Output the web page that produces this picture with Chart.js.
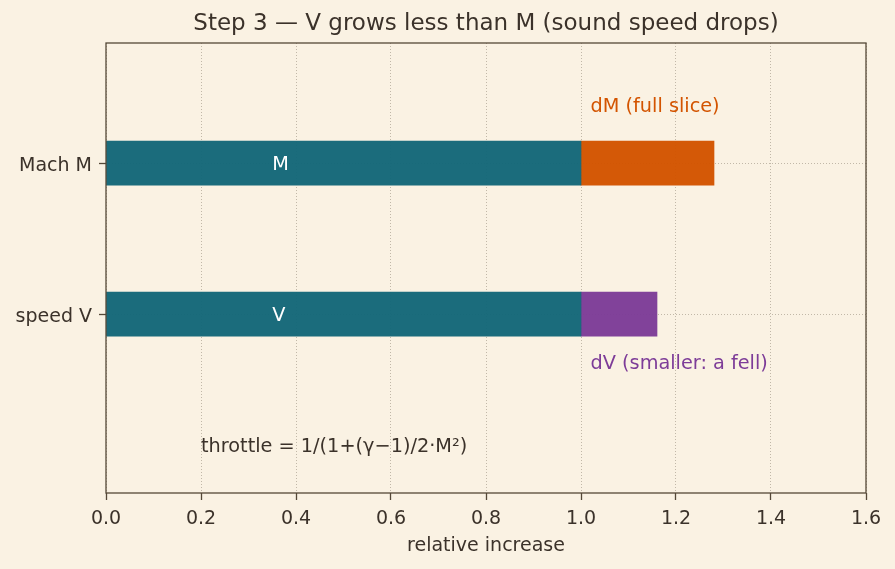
<!DOCTYPE html>
<html lang="en">
<head>
    <meta charset="UTF-8">
    <title>Step 3</title>
    <script src="https://cdn.jsdelivr.net/npm/chart.js"></script>
    <style>
        body { margin: 0; padding: 0; background: #faf2e3; }
        #wrap { width: 895px; height: 569px; position: relative; }
    </style>
</head>
<body>
    <div id="wrap"><canvas id="chart"></canvas></div>
    <script>
        // data
        const rows = ['speed V', 'Mach M'];          // y positions 0, 1
        const rowPos = [0, 1];
        const baseValue = [1.0, 1.0];
        const growth = [0.16, 0.28];                  // dV, dM
        const xTicks = [0, 0.2, 0.4, 0.6, 0.8, 1.0, 1.2, 1.4, 1.6];

        const ink = '#3b322a';
        const frame = '#554837';
        const gridCol = '#b3a899';
        const font = 'DejaVu Sans';

        // texts in data coordinates
        const notes = [
            { text: 'dM (full slice)', x: 1.02, y: 1.385, color: '#d35400' },
            { text: 'dV (smaller: a fell)', x: 1.02, y: -0.32, color: '#7d3c98' },
            { text: 'throttle = 1/(1+(\u03b3\u22121)/2\u00b7M\u00b2)', x: 0.2, y: -0.87, color: ink },
            { text: 'M', x: 0.35, y: 1, color: '#ffffff' },
            { text: 'V', x: 0.35, y: 0, color: '#ffffff' }
        ];

        const extras = {
            id: 'extras',
            beforeDraw(chart) {
                const c = chart.ctx;
                c.save();
                c.fillStyle = '#faf2e3';
                c.fillRect(0, 0, chart.width, chart.height);
                c.restore();
            },
            afterDraw(chart) {
                const c = chart.ctx, a = chart.chartArea;
                const sx = chart.scales.x, sy = chart.scales.y;
                c.save();
                // frame
                c.strokeStyle = frame;
                c.lineWidth = 1.3;
                c.strokeRect(a.left, a.top, a.right - a.left, a.bottom - a.top);
                // title
                c.fillStyle = ink;
                c.font = '23px "' + font + '"';
                c.textAlign = 'center';
                c.textBaseline = 'middle';
                c.fillText('Step 3 \u2014 V grows less than M (sound speed drops)', (a.left + a.right) / 2, 24);
                // notes
                c.font = '19.3px "' + font + '"';
                c.textAlign = 'left';
                notes.forEach(n => {
                    c.fillStyle = n.color;
                    c.fillText(n.text, sx.getPixelForValue(n.x), sy.getPixelForValue(n.y) + 2);
                });
                c.restore();
            }
        };

        const data = {
            datasets: [
                {
                    label: 'base',
                    data: rowPos.map((p, i) => ({ x: [0, baseValue[i]], y: p })),
                    backgroundColor: 'rgba(20, 103, 121, 0.97)'
                },
                {
                    label: 'dM',
                    data: [{ x: [baseValue[1], baseValue[1] + growth[1]], y: rowPos[1] }],
                    backgroundColor: 'rgba(211, 84, 0, 0.97)'
                },
                {
                    label: 'dV',
                    data: [{ x: [baseValue[0], baseValue[0] + growth[0]], y: rowPos[0] }],
                    backgroundColor: 'rgba(125, 60, 152, 0.97)'
                }
            ]
        };

        const gridOpts = {
            color: gridCol, lineWidth: 0.8, offset: false,
            tickLength: 7, tickColor: frame, tickBorderDash: [], tickWidth: 1.3
        };

        const config = {
            type: 'bar',
            data,
            plugins: [extras],
            options: {
                indexAxis: 'y',
                responsive: false,
                animation: false,
                layout: { padding: { top: 43, right: 29, left: 0, bottom: 12 } },
                datasets: { bar: { grouped: false, barThickness: 44, borderWidth: 0 } },
                plugins: { legend: { display: false }, tooltip: { enabled: false } },
                scales: {
                    x: {
                        type: 'linear',
                        min: 0, max: 1.6,
                        afterBuildTicks: s => { s.ticks = xTicks.map(v => ({ value: v })); },
                        afterFit: s => { s.height = 64; },
                        ticks: {
                            color: ink, padding: 8, maxRotation: 0,
                            font: { family: font, size: 19 },
                            callback: v => v.toFixed(1)
                        },
                        grid: gridOpts,
                        border: { display: false, dash: [1, 2] },
                        title: {
                            display: true, text: 'relative increase', color: ink,
                            font: { family: font, size: 19 }, padding: { top: 0, bottom: 0 }
                        }
                    },
                    y: {
                        type: 'linear',
                        offset: false,
                        min: -1.185, max: 1.795,
                        afterBuildTicks: s => { s.ticks = rowPos.map(v => ({ value: v })); },
                        afterFit: s => { s.width = 106; },
                        ticks: {
                            color: ink, padding: 7, labelOffset: 3,
                            font: { family: font, size: 19 },
                            callback: v => rows[rowPos.indexOf(v)]
                        },
                        grid: gridOpts,
                        border: { display: false, dash: [1, 2] }
                    }
                }
            }
        };

        const canvas = document.getElementById('chart');
        canvas.width = 895;
        canvas.height = 569;
        new Chart(canvas.getContext('2d'), config);
    </script>
</body>
</html>
